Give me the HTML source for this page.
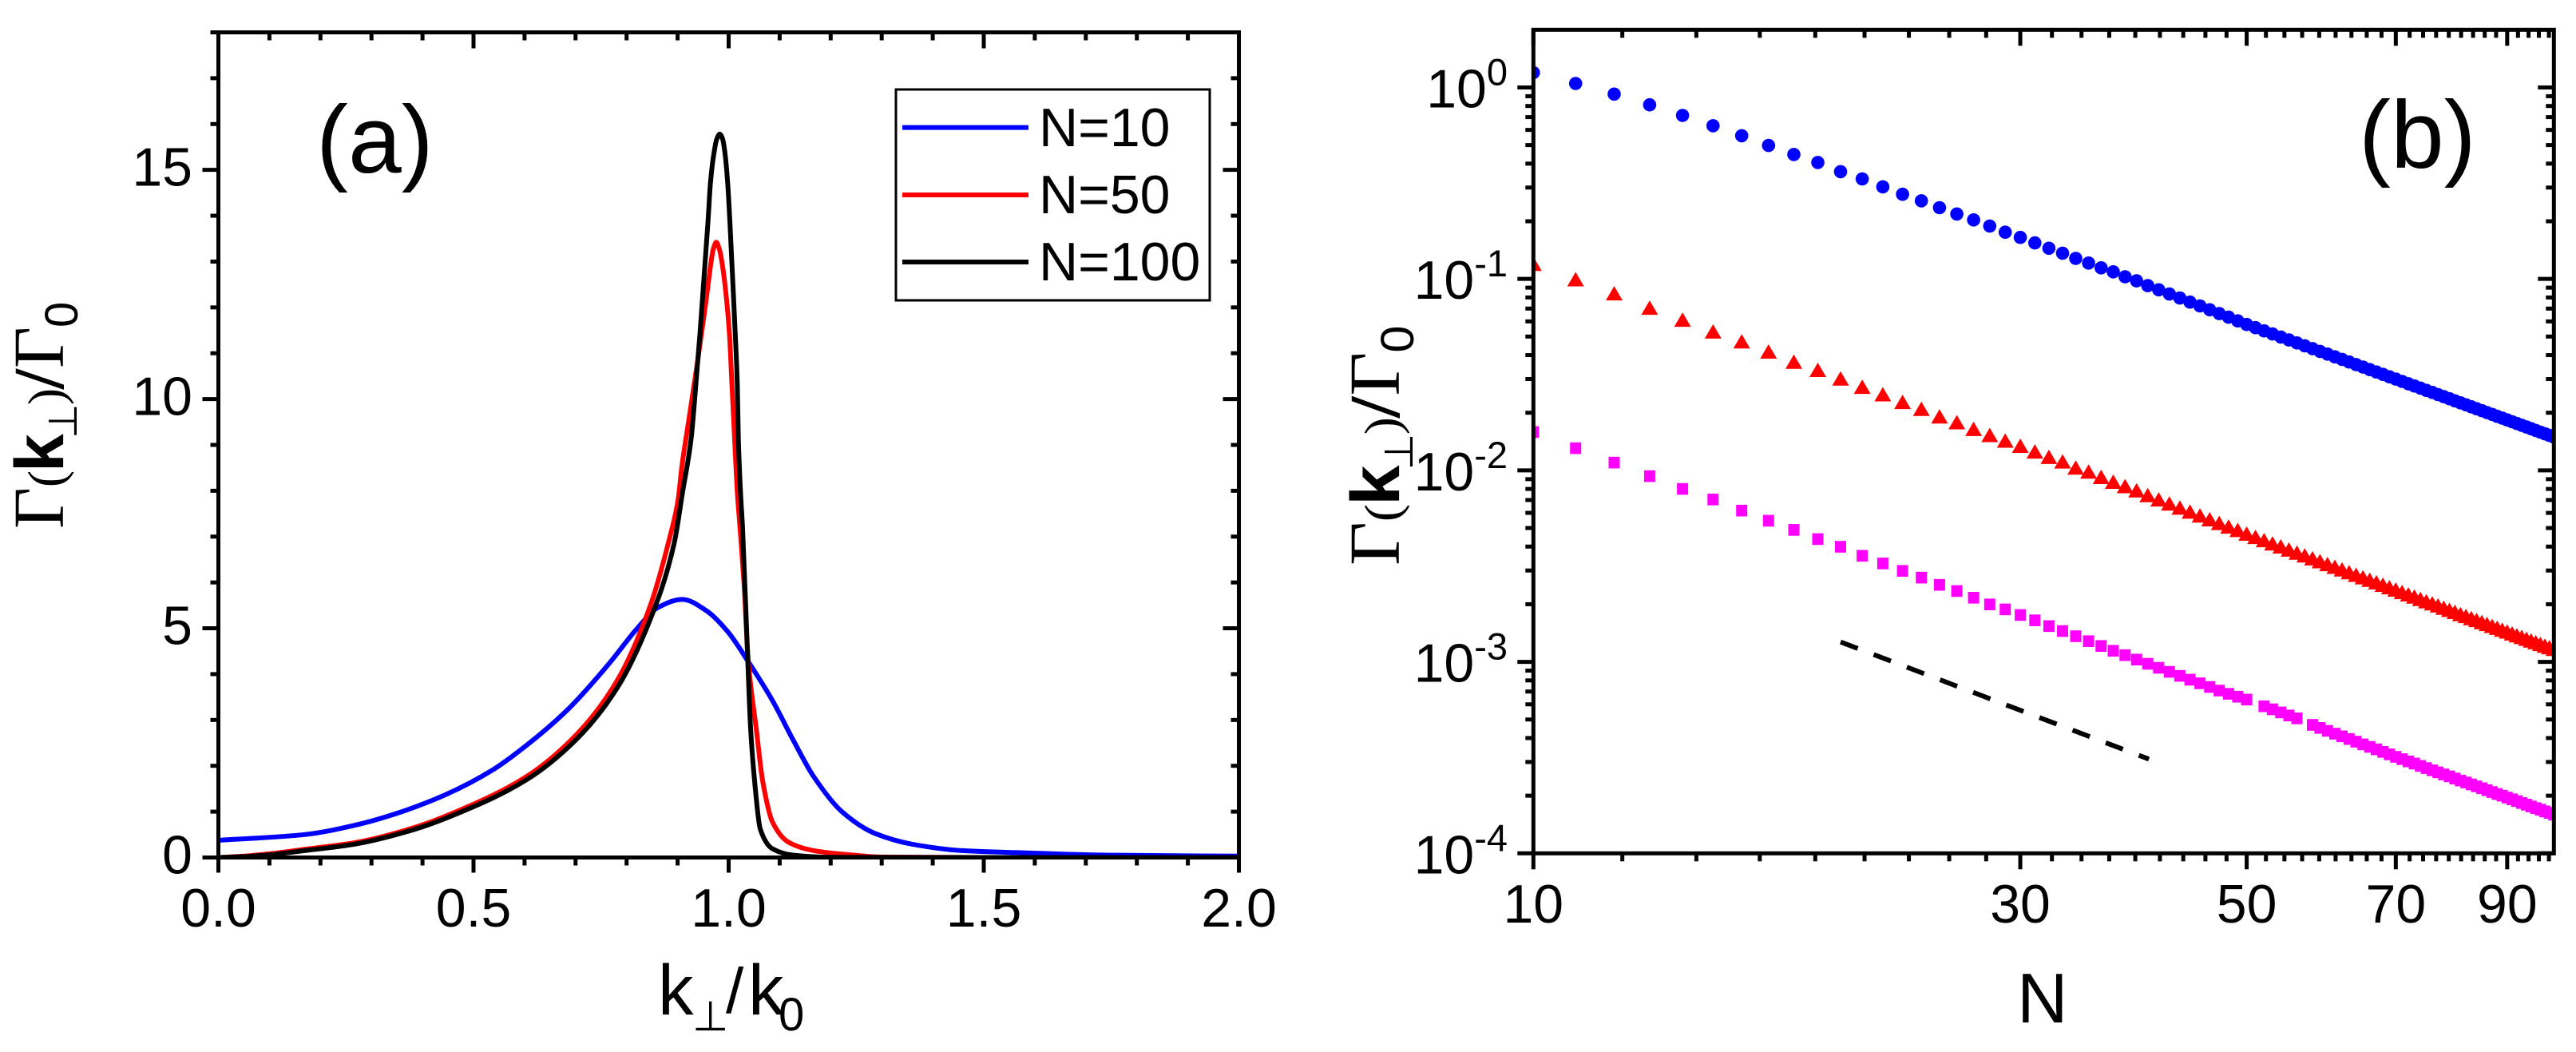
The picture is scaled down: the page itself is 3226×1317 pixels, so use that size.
<!DOCTYPE html>
<html lang="en">
<head>
<meta charset="utf-8">
<title>Decay rate charts</title>
<style>
html,body{margin:0;padding:0;background:#fff;width:3226px;height:1317px;overflow:hidden}
svg{display:block}
text{font-family:"Liberation Sans",sans-serif;fill:#000}
.serif{font-family:"Liberation Serif",serif}
.dejavu{font-family:"DejaVu Sans",sans-serif}
</style>
</head>
<body>
<svg id="fig" xmlns="http://www.w3.org/2000/svg" width="3226" height="1317" viewBox="0 0 3226 1317">
<defs>
<clipPath id="clipA"><rect x="273.5" y="40.5" width="1278" height="1033"/></clipPath>
<clipPath id="clipB"><rect x="1920.3" y="37.3" width="1278" height="1031"/></clipPath>
</defs>
<rect x="0" y="0" width="3226" height="1317" fill="#fff"/>
<g id="panelA"></g>
<g id="panelB"></g>

<text x="396" y="216" font-size="120">(a)</text>
<text x="2954" y="210" font-size="120">(b)</text>

<g>
<rect x="1122" y="112" width="393" height="264" fill="#fff" stroke="#000" stroke-width="3"/>
<line x1="1130" x2="1288" y1="159.6" y2="159.6" stroke="#0000ff" stroke-width="6"/>
<text x="1301" y="183" font-size="68">N=10</text>
<line x1="1130" x2="1288" y1="244" y2="244" stroke="#ff0000" stroke-width="6"/>
<text x="1301" y="267" font-size="68">N=50</text>
<line x1="1130" x2="1288" y1="328" y2="328" stroke="#000" stroke-width="6"/>
<text x="1301" y="351" font-size="68">N=100</text>
</g>

<text transform="rotate(-90)"><tspan class="serif" x="-662" y="79" font-size="90">Γ</tspan><tspan class="serif" x="-610" y="79" font-size="63">(</tspan><tspan x="-591" y="79" font-size="86" font-weight="bold">k</tspan><tspan class="dejavu" x="-549" y="96" font-size="50">⊥</tspan><tspan class="serif" x="-507" y="79" font-size="63">)</tspan><tspan class="serif" x="-487" y="79" font-size="90" font-weight="bold">/</tspan><tspan class="serif" x="-461" y="79" font-size="90">Γ</tspan><tspan x="-410" y="97" font-size="58">0</tspan></text>

<text transform="translate(1673,8.3) scale(1,1.057) rotate(-90)"><tspan class="serif" x="-662" y="79" font-size="90">Γ</tspan><tspan class="serif" x="-610" y="79" font-size="63">(</tspan><tspan x="-591" y="79" font-size="86" font-weight="bold">k</tspan><tspan class="dejavu" x="-549" y="96" font-size="50">⊥</tspan><tspan class="serif" x="-507" y="79" font-size="63">)</tspan><tspan class="serif" x="-487" y="79" font-size="90" font-weight="bold">/</tspan><tspan class="serif" x="-461" y="79" font-size="90">Γ</tspan><tspan x="-410" y="97" font-size="58">0</tspan></text>

<text><tspan x="824" y="1270" font-size="89">k</tspan><tspan class="dejavu" x="867" y="1290" font-size="52">⊥</tspan><tspan x="909" y="1268" font-size="80">/</tspan><tspan x="937" y="1270" font-size="89">k</tspan><tspan x="975" y="1290" font-size="58">0</tspan></text>
<text x="2526" y="1280" font-size="88">N</text>
</svg>
<script>
// ---------- Panel (a) data ----------
const n10K = [0,0.169,0.266,0.346,0.443,0.539,0.603,0.684,0.765,0.821,0.861,0.909,0.958,0.998,1.038,1.086,1.127,1.167,1.223,1.288,1.36,1.457,1.585,1.746,2.0];
const n10Gamma = [0.375,0.50,0.70,0.95,1.36,1.92,2.44,3.22,4.22,5.0,5.45,5.63,5.37,4.93,4.28,3.42,2.55,1.76,0.99,0.52,0.29,0.15,0.10,0.05,0.03];
const n50K = [0,0.05,0.1,0.169,0.266,0.3775,0.475,0.603,0.70,0.781,0.845,0.885,0.9007,0.9085,0.9241,0.9398,0.9544,0.9592,0.9647,0.9701,0.9757,0.9815,0.9878,0.9945,1.0014,1.0066,1.0118,1.017,1.0223,1.03,1.0385,1.054,1.067,1.086,1.118,1.167,1.247,1.3,1.5,2.0];
const n50Gamma = [0,0.03,0.08,0.18,0.32,0.63,1.04,1.76,2.66,3.85,5.45,7.0,7.78,8.54,9.70,10.87,12.04,12.45,12.92,13.28,13.42,13.28,12.92,12.32,11.45,10.29,9.12,7.96,7.2,6.0,4.28,2.82,1.65,0.77,0.33,0.15,0.05,0.01,0,0];
const n100K = [0,0.05,0.1,0.169,0.266,0.3775,0.475,0.603,0.70,0.781,0.845,0.893,0.9096,0.9263,0.9356,0.944,0.9518,0.9596,0.9643,0.971,0.977,0.9826,0.988,0.993,0.9982,1.0023,1.0076,1.0128,1.017,1.0191,1.0233,1.0272,1.0375,1.043,1.051,1.062,1.086,1.127,1.2,1.5,2.0];
const n100Gamma = [0,0.02,0.06,0.15,0.29,0.59,0.99,1.69,2.56,3.69,5.16,6.84,7.96,9.12,10.29,11.45,12.67,13.89,14.71,15.35,15.68,15.78,15.68,15.35,14.71,13.89,12.67,11.45,10.29,9.12,7.96,7.2,4.28,2.82,1.65,0.62,0.19,0.05,0.005,0,0];
const xTicksA = ["0.0","0.5","1.0","1.5","2.0"];
const yTicksA = ["0","5","10","15"];

// ---------- Panel (b) data: log10 of Gamma at N = 10, 11, ... 100 ----------
const firstN = 10;
const circleLog = [0.0776,0.0208,-0.035,-0.0905,-0.146,-0.2,-0.252,-0.303,-0.35,-0.392,-0.44,-0.478,-0.519,-0.558,-0.592,-0.628,-0.661,-0.692,-0.724,-0.756,-0.783,-0.812,-0.84,-0.866,-0.893,-0.917,-0.942,-0.963,-0.989,-1.010,-1.035,-1.057,-1.079,-1.100,-1.121,-1.141,-1.161,-1.181,-1.200,-1.219,-1.238,-1.2548,-1.2713,-1.2874,-1.3033,-1.3189,-1.3341,-1.3491,-1.3639,-1.3784,-1.3927,-1.4067,-1.4204,-1.4341,-1.4474,-1.4604,-1.4735,-1.4862,-1.4987,-1.5112,-1.5233,-1.5354,-1.5474,-1.5591,-1.5706,-1.5819,-1.593,-1.6042,-1.6151,-1.626,-1.6366,-1.6472,-1.6575,-1.6679,-1.678,-1.688,-1.698,-1.7077,-1.7175,-1.727,-1.7366,-1.746,-1.7552,-1.7643,-1.7735,-1.7825,-1.7913,-1.8001,-1.8089,-1.8175,-1.826];
const triangleLog = [-0.921,-1.0015,-1.075,-1.15,-1.2125,-1.274,-1.326,-1.379,-1.432,-1.475,-1.520,-1.563,-1.602,-1.642,-1.678,-1.718,-1.748,-1.783,-1.815,-1.844,-1.871,-1.901,-1.929,-1.953,-1.985,-2.006,-2.034,-2.059,-2.082,-2.104,-2.129,-2.151,-2.173,-2.194,-2.215,-2.235,-2.255,-2.274,-2.293,-2.311,-2.330,-2.347,-2.364,-2.381,-2.397,-2.413,-2.429,-2.444,-2.459,-2.474,-2.489,-2.503,-2.517,-2.531,-2.545,-2.558,-2.571,-2.584,-2.597,-2.610,-2.622,-2.635,-2.647,-2.659,-2.671,-2.683,-2.694,-2.705,-2.717,-2.728,-2.739,-2.750,-2.760,-2.771,-2.781,-2.792,-2.802,-2.812,-2.822,-2.832,-2.841,-2.851,-2.861,-2.870,-2.879,-2.888,-2.897,-2.906,-2.915,-2.923,-2.932];
const squareLog = [-1.80,-1.884,-1.959,-2.03,-2.097,-2.152,-2.21,-2.263,-2.311,-2.359,-2.399,-2.446,-2.486,-2.525,-2.560,-2.598,-2.630,-2.665,-2.700,-2.726,-2.755,-2.783,-2.813,-2.839,-2.866,-2.892,-2.917,-2.942,-2.965,-2.988,-3.010,-3.031,-3.052,-3.073,-3.093,-3.112,-3.131,-3.150,-3.167,-3.182,-3.197,null,-3.232,-3.248,-3.264,-3.280,-3.295,null,-3.329,-3.345,-3.360,-3.375,-3.389,-3.403,-3.417,-3.431,-3.444,-3.457,-3.470,-3.483,-3.496,-3.508,-3.520,-3.531,-3.543,-3.555,-3.566,-3.577,-3.588,-3.598,-3.609,-3.620,-3.630,-3.640,-3.650,-3.660,-3.670,-3.680,-3.690,-3.699,-3.709,-3.718,-3.727,-3.737,-3.746,-3.755,-3.764,-3.772,-3.781,-3.789,-3.798];
const guideN = [20,40.1];
const guideLog = [-2.896,-3.508];
const xTicksB = [10,30,50,70,90];
const yDecadesB = [0,-1,-2,-3,-4];

// ---------- Axis functions ----------
const A = {l:273.5,r:1551.5,t:40.5,b:1073.5,xMax:2,yMax:18};
const B = {l:1920.3,r:3198.3,t:37.3,b:1068.3,yMin:-4,yMax:Math.log10(2)};
function xA(v){return A.l+(A.r-A.l)*v/A.xMax;}
function yA(v){return A.b-(A.b-A.t)*v/A.yMax;}
function xB(n){return B.l+(B.r-B.l)*Math.log10(n/10);}
function yB(lg){return B.b-(B.b-B.t)*(lg-B.yMin)/(B.yMax-B.yMin);}

const NS='http://www.w3.org/2000/svg';
function mk(parent,tag,attrs){
  const el=document.createElementNS(NS,tag);
  for(const k in attrs){el.setAttribute(k,attrs[k]);}
  parent.appendChild(el);
  return el;
}
const panelA=document.getElementById('panelA');
const panelB=document.getElementById('panelB');

function tick(parent,x1,y1,x2,y2,name){
  const el=mk(parent,'line',{x1:x1,y1:y1,x2:x2,y2:y2,stroke:'#000','stroke-width':5});
  
  
}

// Monotone cubic path through the data points (no overshoot at the peak)
function monotonePath(xs,ys){
  const n=xs.length, d=[], m=[];
  for(let i=0;i<n-1;i++){d.push((ys[i+1]-ys[i])/(xs[i+1]-xs[i]));}
  m.push(d[0]);
  for(let i=1;i<n-1;i++){
    if(d[i-1]*d[i]<=0){m.push(0);}
    else{
      const w1=2*(xs[i+1]-xs[i])+(xs[i]-xs[i-1]);
      const w2=(xs[i+1]-xs[i])+2*(xs[i]-xs[i-1]);
      m.push((w1+w2)/(w1/d[i-1]+w2/d[i]));
    }
  }
  m.push(d[n-2]);
  let s='M'+xs[0].toFixed(1)+' '+ys[0].toFixed(1);
  for(let i=0;i<n-1;i++){
    const h=(xs[i+1]-xs[i])/3;
    s+=' C'+(xs[i]+h).toFixed(1)+' '+(ys[i]+m[i]*h).toFixed(1)+' '+(xs[i+1]-h).toFixed(1)+' '+(ys[i+1]-m[i+1]*h).toFixed(1)+' '+xs[i+1].toFixed(1)+' '+ys[i+1].toFixed(1);
  }
  return s;
}

// ---------- Panel (a) curves ----------
const curvesA=mk(panelA,'g',{'clip-path':'url(#clipA)'});


function drawCurve(ks,gs,color,name){
  const el=mk(curvesA,'path',{d:monotonePath(ks.map(xA),gs.map(yA)),fill:'none',stroke:color,'stroke-width':6,'stroke-linejoin':'round'});
  
  
}
drawCurve(n10K,n10Gamma,'#0000ff','curve-n10');
drawCurve(n50K,n50Gamma,'#ff0000','curve-n50');
drawCurve(n100K,n100Gamma,'#000000','curve-n100');

// ---------- Panel (a) frame & ticks ----------
const frameA=mk(panelA,'rect',{x:A.l,y:A.t,width:A.r-A.l,height:A.b-A.t,fill:'none',stroke:'#000','stroke-width':5});


for(let i=0;i<=20;i++){
  const v=i/10, major=i%5===0, x=xA(v);
  tick(panelA,x,A.b,x,A.b+(major?19:10),'panel-a-x-tick');
  tick(panelA,x,A.t,x,A.t+(major?20:10),'panel-a-x-tick-top');
}
for(let i=0;i<=18;i++){
  const major=i%5===0, y=yA(i);
  tick(panelA,A.l,y,A.l-(major?20:10),y,'panel-a-y-tick');
  tick(panelA,A.r,y,A.r-(major?20:10),y,'panel-a-y-tick-right');
}
xTicksA.forEach(function(s){
  const t=mk(panelA,'text',{x:xA(parseFloat(s)),y:1160,'font-size':68,'text-anchor':'middle'});
  t.textContent=s;
  
  
});
yTicksA.forEach(function(s){
  const t=mk(panelA,'text',{x:241,y:yA(parseFloat(s))+20,'font-size':68,'text-anchor':'end'});
  t.textContent=s;
  
  
});

// ---------- Panel (b) markers ----------
const marksB=mk(panelB,'g',{'clip-path':'url(#clipB)'});


circleLog.forEach(function(v,i){
  if(v===null)return;
  const c=mk(marksB,'circle',{cx:xB(firstN+i).toFixed(1),cy:yB(v).toFixed(1),r:8.3,fill:'#0000ff'});
  
  
});
triangleLog.forEach(function(v,i){
  if(v===null)return;
  const x=xB(firstN+i), y=yB(v);
  const p=mk(marksB,'polygon',{points:(x-10.5).toFixed(1)+','+(y+9).toFixed(1)+' '+(x+10.5).toFixed(1)+','+(y+9).toFixed(1)+' '+x.toFixed(1)+','+(y-9).toFixed(1),fill:'#ff0000'});
  
  
});
squareLog.forEach(function(v,i){
  if(v===null)return;
  const x=xB(firstN+i), y=yB(v);
  const r=mk(marksB,'rect',{x:(x-7).toFixed(1),y:(y-7.3).toFixed(1),width:14,height:14.6,fill:'#ff00ff'});
  
  
});
const guide=mk(panelB,'line',{x1:xB(guideN[0]),y1:yB(guideLog[0]),x2:xB(guideN[1]),y2:yB(guideLog[1]),stroke:'#000','stroke-width':6,'stroke-dasharray':'23 21.4'});



// ---------- Panel (b) frame & ticks ----------
const frameB=mk(panelB,'rect',{x:B.l,y:B.t,width:B.r-B.l,height:B.b-B.t,fill:'none',stroke:'#000','stroke-width':5});


for(let i=0;i<=40;i++){
  const n=10+i*20/9;
  if(n>100.01)break;
  const major=i%9===0, x=xB(n);
  tick(panelB,x,B.b,x,B.b+(major?20:10),'panel-b-x-tick');
  tick(panelB,x,B.t,x,B.t+(major?20:10),'panel-b-x-tick-top');
}
yDecadesB.forEach(function(d){
  const y=yB(d);
  tick(panelB,B.l,y,B.l-20,y,'panel-b-y-tick');
  tick(panelB,B.r,y,B.r-20,y,'panel-b-y-tick-right');
  if(d<0){
    for(let m=2;m<=9;m++){
      const ym=yB(d+Math.log10(m));
      tick(panelB,B.l,ym,B.l-10,ym,'panel-b-y-minor-tick');
      tick(panelB,B.r,ym,B.r-10,ym,'panel-b-y-minor-tick-right');
    }
  }
});
xTicksB.forEach(function(n){
  const t=mk(panelB,'text',{x:xB(n),y:1155,'font-size':68,'text-anchor':'middle'});
  t.textContent=String(n);
  
  
});
yDecadesB.forEach(function(d){
  const y=yB(d);
  const t=mk(panelB,'text',{x:1888,y:y+25,'font-size':68,'text-anchor':'end'});
  
  
  const base=mk(t,'tspan',{});
  base.textContent='10';
  const sup=mk(t,'tspan',{'font-size':47,dy:-28});
  sup.textContent=String(d);
});
</script>
</body>
</html>
